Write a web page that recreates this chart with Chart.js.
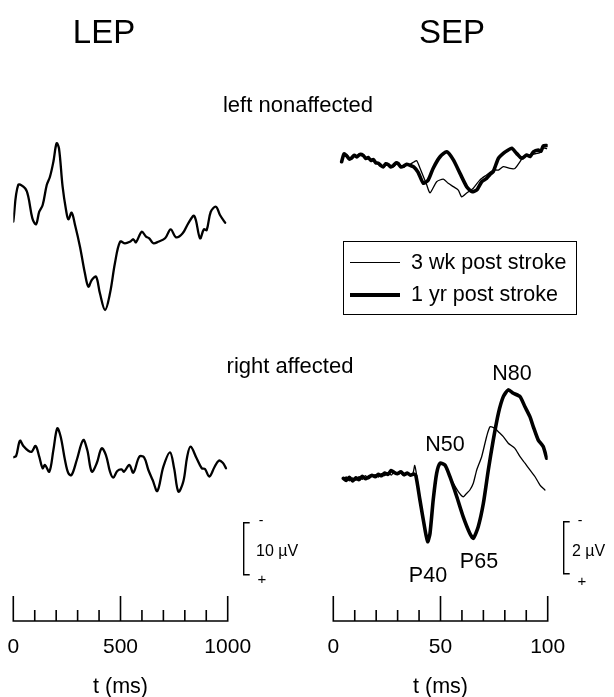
<!DOCTYPE html>
<html>
<head>
<meta charset="utf-8">
<script src="https://cdn.jsdelivr.net/npm/chart.js@4/dist/chart.umd.min.js"></script>
<style>
  html, body { margin: 0; padding: 0; background: #fff; }
  #wrap { position: relative; width: 614px; height: 697px; overflow: hidden; background: #fff;
          font-family: "Liberation Sans", Arial, Helvetica, sans-serif; color: #000; }
  canvas { position: absolute; top: 0; }
  .t { position: absolute; transform: translate(-50%, -50%); white-space: nowrap; line-height: 1; }
  .l { position: absolute; transform: translate(0, -50%); white-space: nowrap; line-height: 1; }
  #legend { position: absolute; left: 343px; top: 241px; width: 232px; height: 72px; border: 1.5px solid #000; }
  .sw { position: absolute; left: 6px; width: 50px; background: #000; }
</style>
</head>
<body>
<div id="wrap">
  <canvas id="cL" width="307" height="697" style="left:0px;width:307px;height:697px"></canvas>
  <canvas id="cR" width="307" height="697" style="left:307px;width:307px;height:697px"></canvas>

  <div class="t" style="left:104px;top:31px;font-size:33px">LEP</div>
  <div class="t" style="left:452px;top:31px;font-size:33px">SEP</div>
  <div class="t" style="left:298px;top:105px;font-size:22px">left nonaffected</div>
  <div class="t" style="left:290px;top:366px;font-size:22px">right affected</div>

  <div class="t" style="left:512px;top:374px;font-size:21.5px">N80</div>
  <div class="t" style="left:445px;top:445px;font-size:21.5px">N50</div>
  <div class="t" style="left:428px;top:576px;font-size:21.5px">P40</div>
  <div class="t" style="left:479px;top:562px;font-size:21.5px">P65</div>

  <div class="t" style="left:261px;top:520px;font-size:14px">-</div>
  <div class="l" style="left:256px;top:551px;font-size:16px">10 µV</div>
  <div class="t" style="left:262px;top:578px;font-size:15px">+</div>

  <div class="t" style="left:580px;top:520px;font-size:14px">-</div>
  <div class="l" style="left:572px;top:551px;font-size:16px">2 µV</div>
  <div class="t" style="left:582px;top:580px;font-size:15px">+</div>

  <div id="legend">
    <div class="sw" style="top:20px;height:1.3px"></div>
    <div class="sw" style="top:51px;height:3.5px"></div>
    <div class="l" style="left:67px;top:21px;font-size:21.5px">3 wk post stroke</div>
    <div class="l" style="left:67px;top:53px;font-size:21.5px">1 yr post stroke</div>
  </div>
</div>
<script>
// ---------------- data (µV, negative up; time in ms) ----------------
const lepTopTime = [0,23,55,70,89,106,121,137,156,171,187,202,213,230,246,257,272,288,311,334,350,366,386,404,428,451,474,498,521,544,560,572,599,619,634,653,676,708,734,759,790,816,844,871,889,902,921,945,964,988];
const lepTopVals = [0,-7.06,-6.42,-4.81,-0.65,0.5,-1.92,-3.21,-7.06,-8.65,-11.54,-15.08,-14.12,-6.73,-2.25,-0.46,-1.73,0.63,4.81,9.92,12.5,11.21,10.58,13.77,16.98,13.77,8.0,3.85,4.15,3.85,3.38,3.96,1.92,2.88,3.19,4.15,3.85,3.19,1.46,3.0,2.23,0.31,-1.1,3.19,1.46,1.6,-1.92,-2.88,-1.29,0.19];

const lepBotTime = [0,13,31,47,70,86,104,121,137,148,168,187,205,221,241,257,272,296,326,345,366,389,412,432,451,466,485,505,516,541,560,588,610,630,650,672,700,731,750,770,793,811,827,855,879,894,914,938,958,977,992];
const lepBotVals = [0,-0.25,-3.19,-2.17,-1.27,-1.08,-2.17,-0.12,2.1,1.48,2.77,-1.40,-5.56,-3.94,0.52,3.08,3.40,0.52,-3.33,-1.40,2.77,1.15,-1.73,-0.44,2.77,3.92,2.63,2.31,2.77,1.48,2.96,-0.12,0,2.44,4.37,6.48,1.79,-0.96,2.1,6.6,4.67,-0.12,-2.04,0.19,2.1,2.25,3.71,1.92,0.65,1.04,2.1];

const sepTopThickTime = [3.9,5,6.3,7.5,8.6,9.8,10.9,12.4,14,15.2,16.3,17.5,18.7,19.8,21,22.2,23.3,24.5,25.7,26.8,28,29.2,30.3,31.5,32.6,34.2,35.8,37.5,39.5,42,44.3,46.6,49.8,52.9,56,59.1,62.2,64.6,66.9,69.2,71.5,73,74.6,77,79.3,81.6,83.2,85.5,87.9,90.2,91.8,93.3,95.6,96.8,97.9,99.5];
const sepTopThickVals = [0,-0.3,-0.22,-0.1,-0.15,-0.25,-0.18,-0.28,-0.24,-0.12,-0.16,-0.05,-0.08,0.04,0.06,0.15,0.2,0.08,0.12,0.2,0.15,0.05,0.08,0.2,0.18,0.1,0.14,0.2,0.4,0.83,0.7,0.25,-0.19,-0.38,-0.07,0.45,0.96,1.15,1.09,0.77,0.64,0.5,0.38,-0.13,-0.32,-0.45,-0.52,-0.32,-0.13,-0.26,-0.2,-0.38,-0.45,-0.4,-0.6,-0.62];

const sepTopThinTime = [3.9,5,6.3,7.5,8.6,9.8,10.9,12.4,14,15.2,16.3,17.5,18.7,19.8,21,22.2,23.3,24.5,25.7,26.8,28,29.2,30.3,31.5,32.6,34.2,35.8,37.6,38.9,40.4,43.6,45.1,48.2,51.3,53.6,56,58.3,59.9,62.2,65.3,68.4,71.5,74.6,77,79.3,82.4,84.7,87.1,88.6,91.7,94.9,96.5,97.9,99.5];
const sepTopThinVals = [0.02,-0.22,-0.26,-0.14,-0.1,-0.2,-0.22,-0.3,-0.2,-0.16,-0.1,-0.08,-0.02,0.02,0.1,0.12,0.22,0.12,0.08,0.16,0.2,0.1,0.04,0.16,0.22,0.14,0.1,0.01,-0.04,0.24,0.9,1.2,0.77,0.67,0.83,0.96,1.09,1.35,1.2,1.02,0.7,0.51,0.32,0.32,0.19,0.26,0.26,0.0,-0.19,-0.26,-0.32,-0.35,-0.53,-0.5];

const sepBotThickTime = [4.7,6,7.5,9,10.5,12,13.5,15,16.5,18,19.5,21,22.5,24,25.5,27,28.5,30,31.5,33,34.5,36,37.5,38.5,40.4,42.8,44,45.1,46.6,48.2,49.8,52.1,54.4,57.6,60.6,63.7,65.3,67.6,70,72.3,74.6,77,79.3,81.6,84,87.1,89.4,91.7,93.3,95.6,97.9,99.5];
const sepBotThickVals = [0,0.08,-0.04,0.1,-0.02,0.05,-0.08,0.02,-0.05,-0.12,-0.06,-0.15,-0.1,-0.2,-0.15,-0.3,-0.22,-0.18,-0.25,-0.14,-0.2,-0.12,-0.16,-0.1,0.83,1.99,2.44,2.12,0.83,-0.19,-0.58,-0.51,-0.06,0.71,1.48,2.12,2.31,1.86,0.96,-0.32,-1.47,-2.5,-3.14,-3.4,-3.27,-3.14,-2.75,-2.37,-1.98,-1.47,-1.22,-0.77];

const sepBotThinTime = [4.7,6,7.5,9,10.5,12,13.5,15,16.5,18,19.5,21,22.5,24,25.5,27,28.5,30,31.5,33,34.5,36,37.2,38,38.8,40.4,42.8,44,45.1,46.6,48.2,49.8,52.1,55.2,58.3,60.6,62.2,63.7,65.3,66.9,69.2,71.5,73.1,75.4,77,79.3,81.6,84.7,87.1,89.4,91.7,94.1,96.4,98.7];
const sepBotThinVals = [0.05,-0.05,0.1,-0.02,0.08,-0.06,0.04,-0.1,0.02,-0.08,-0.14,-0.05,-0.18,-0.1,-0.22,-0.12,-0.26,-0.15,-0.2,-0.1,-0.18,-0.12,-0.2,-0.5,-0.15,0.8,1.95,2.4,2.1,0.8,-0.2,-0.58,-0.45,0.07,0.51,0.71,0.58,0.45,0.19,-0.32,-0.83,-1.6,-1.98,-1.92,-1.79,-1.6,-1.35,-1.15,-0.83,-0.58,-0.32,-0.06,0.26,0.45];

// time axis ticks and calibration bars
const lepAxis = [0, 1000, 100, 500];   // min, max, minor step, major step
const sepAxis = [0, 100, 10, 50];
const lepCalBar = [12.6, 10];          // start (µV on lower trace axis), length µV
const sepCalBar = [1.67, 2];

// ---------------- drawing ----------------
const FONT = '"Liberation Sans", Arial, Helvetica, sans-serif';
const pts = (t, v) => t.map((x, i) => ({ x: x, y: v[i] }));

const eegPlugin = {
  id: 'eegAxis',
  afterDraw(chart, args, o) {
    const { ctx, chartArea, scales } = chart;
    const x = scales.x;
    const yb = chartArea.bottom;
    ctx.save();
    ctx.strokeStyle = '#000';
    ctx.lineWidth = 1.6;
    ctx.lineCap = 'butt';
    ctx.beginPath();
    ctx.moveTo(x.getPixelForValue(x.min), yb);
    ctx.lineTo(x.getPixelForValue(x.max), yb);
    x.ticks.forEach(t => {
      const px = x.getPixelForValue(t.value);
      const len = (Math.round(t.value) % o.major === 0) ? o.majorLen : o.minorLen;
      ctx.moveTo(px, yb + 0.8);
      ctx.lineTo(px, yb - len);
    });
    ctx.stroke();
    // calibration bracket
    const ys = scales.yBot;
    const y1 = ys.getPixelForValue(o.bar[0]);
    const y2 = ys.getPixelForValue(o.bar[0] + o.bar[1]);
    const bx = chartArea.right + o.barOffset;
    ctx.lineWidth = 1.4;
    ctx.beginPath();
    ctx.moveTo(bx + 6, y1);
    ctx.lineTo(bx, y1);
    ctx.lineTo(bx, y2);
    ctx.lineTo(bx + 6, y2);
    ctx.stroke();
    ctx.restore();
  }
};

function makeChart(id, axis, padL, padR, pxPerUV, topBase, botBase, datasets, bar) {
  const H = 621;
  const range = H / pxPerUV;
  const topMin = -topBase / pxPerUV, botMin = -botBase / pxPerUV;
  return new Chart(document.getElementById(id), {
    type: 'line',
    data: { datasets },
    options: {
      responsive: false,
      animation: false,
      events: [],
      layout: { padding: { left: padL, right: padR, top: 0, bottom: 0 } },
      plugins: {
        legend: { display: false },
        tooltip: { enabled: false },
        eegAxis: { major: axis[3], majorLen: 25, minorLen: 11, bar: bar, barOffset: 16 }
      },
      scales: {
        x: {
          type: 'linear', min: axis[0], max: axis[1], position: 'bottom',
          afterFit: s => { s.height = 76; s.paddingLeft = 0; s.paddingRight = 0; },
          grid: { display: false, drawTicks: false },
          border: { display: false },
          ticks: {
            stepSize: axis[2], autoSkip: false, maxRotation: 0, padding: 14,
            color: '#000', font: { size: 21, family: FONT },
            callback: v => (Math.round(v) % axis[3] === 0 ? String(v) : '')
          },
          title: { display: true, text: 't (ms)', color: '#000', font: { size: 21.5, family: FONT, lineHeight: 1 }, padding: { top: 0, bottom: -1 } }
        },
        yTop: { type: 'linear', display: false, reverse: true, min: topMin, max: topMin + range },
        yBot: { type: 'linear', display: false, reverse: true, min: botMin, max: botMin + range }
      }
    },
    plugins: [eegPlugin]
  });
}

const line = (data, axisId, w, tension) => ({
  data, yAxisID: axisId, borderColor: '#000', borderWidth: w, pointRadius: 0,
  tension: tension, fill: false, borderJoinStyle: 'round', borderCapStyle: 'round'
});

makeChart('cL', lepAxis, 13.3, 307 - 227.7, 5.2, 221.7, 457.3, [
  line(pts(lepTopTime, lepTopVals), 'yTop', 2.3, 0.35),
  line(pts(lepBotTime, lepBotVals), 'yBot', 2.3, 0.35)
], lepCalBar);

makeChart('cR', sepAxis, 333.3 - 307, 614 - 547.7, 26, 161.7, 478.3, [
  line(pts(sepTopThickTime, sepTopThickVals), 'yTop', 3.6, 0.2),
  line(pts(sepTopThinTime, sepTopThinVals), 'yTop', 1.3, 0.2),
  line(pts(sepBotThickTime, sepBotThickVals), 'yBot', 3.6, 0.2),
  line(pts(sepBotThinTime, sepBotThinVals), 'yBot', 1.3, 0.2)
], sepCalBar);
</script>
</body>
</html>
